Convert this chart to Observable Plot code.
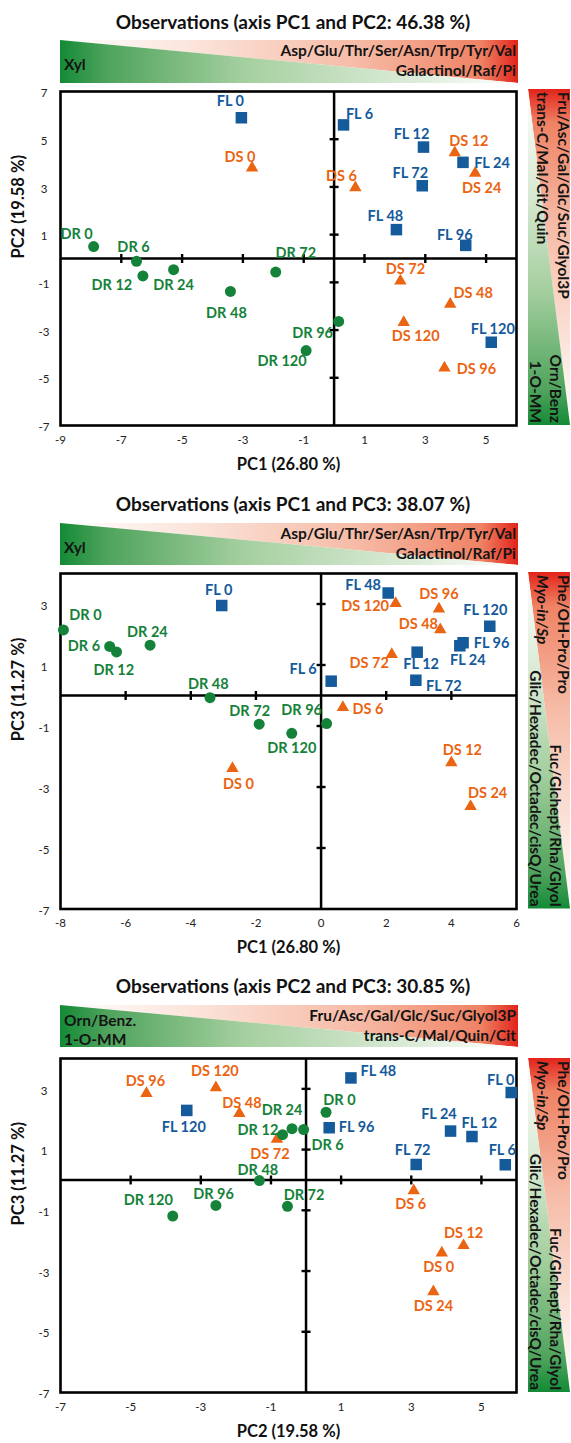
<!DOCTYPE html>
<html>
<head>
<meta charset="utf-8">
<script src="https://cdn.jsdelivr.net/npm/d3@7"></script>
<script src="https://cdn.jsdelivr.net/npm/@observablehq/plot@0.6"></script>
<style>
html,body{margin:0;padding:0;background:#fff;}
#root{position:relative;width:571px;height:1443px;overflow:hidden;font-family:Lato,"Open Sans",sans-serif;}
#root > svg{position:absolute;left:0;}
</style>
</head>
<body>
<div id="root"></div>
<script>
// ---------------- DATA ----------------
const samples = ["FL 0","FL 6","FL 12","FL 24","FL 48","FL 72","FL 96","FL 120",
                 "DS 0","DS 6","DS 12","DS 24","DS 48","DS 72","DS 96","DS 120",
                 "DR 0","DR 6","DR 12","DR 24","DR 48","DR 72","DR 96","DR 120"];

// Panel 1: PC1 vs PC2
const p1PC1 = [-3.05, 0.31, 2.94, 4.24, 2.05, 2.90, 4.33, 5.17,
               -2.70, 0.70, 3.97, 4.64, 3.82, 2.18, 3.63, 2.29,
               -7.91, -6.50, -6.29, -5.28, -3.41, -1.92, 0.15, -0.92];
const p1PC2 = [5.90, 5.60, 4.67, 4.03, 1.21, 3.05, 0.55, -3.51,
               3.80, 2.97, 4.44, 3.58, -1.91, -0.94, -4.59, -2.68,
               0.50, -0.12, -0.73, -0.47, -1.38, -0.57, -2.64, -3.86];
// Panel 2: PC1 vs PC3
const p2PC1 = [-3.05, 0.31, 2.95, 4.26, 2.06, 2.91, 4.36, 5.18,
               -2.72, 0.67, 4.00, 4.59, 3.66, 2.17, 3.62, 2.29,
               -7.91, -6.49, -6.28, -5.25, -3.41, -1.90, 0.17, -0.90];
const p2PC3 = [2.95, 0.47, 1.42, 1.63, 3.36, 0.50, 1.73, 2.27,
               -2.39, -0.39, -2.20, -3.64, 2.16, 1.35, 2.84, 3.02,
               2.15, 1.61, 1.43, 1.65, -0.07, -0.94, -0.92, -1.24];
// Panel 3: PC2 vs PC3
const p3PC2 = [5.85, 5.68, 4.73, 4.12, 1.28, 3.14, 0.66, -3.40,
               3.87, 3.07, 4.49, 3.63, -1.90, -0.83, -4.55, -2.57,
               0.57, -0.07, -0.67, -0.40, -1.33, -0.53, -2.57, -3.80];
const p3PC3 = [2.88, 0.50, 1.43, 1.61, 3.36, 0.51, 1.72, 2.29,
               -2.40, -0.35, -2.16, -3.68, 2.19, 1.34, 2.85, 3.04,
               2.23, 1.66, 1.49, 1.69, -0.02, -0.87, -0.84, -1.19];

// tick labels
const ticksPC1a = [-9, -7, -5, -3, -1, 1, 3, 5];
const ticksPC2a = [7, 5, 3, 1, -1, -3, -5, -7];
const ticksPC1b = [-8, -6, -4, -2, 0, 2, 4, 6];
const ticksPC3 = [3, 1, -1, -3, -5, -7];
const ticksPC2b = [-7, -5, -3, -1, 1, 3, 5];

// titles and loading texts
const titles = ["Observations (axis PC1 and PC2: 46.38 %)",
                "Observations (axis PC1 and PC3: 38.07 %)",
                "Observations (axis PC2 and PC3: 30.85 %)"];
const axisPC1 = "PC1 (26.80 %)", axisPC2 = "PC2 (19.58 %)", axisPC3 = "PC3 (11.27 %)";
const pc1Pos = ["Asp/Glu/Thr/Ser/Asn/Trp/Tyr/Val", "Galactinol/Raf/Pi"];
const pc1Neg = ["Xyl"];
const pc2Pos = ["Fru/Asc/Gal/Glc/Suc/Glyol3P", "trans-C/Mal/Cit/Quin"];
const pc2PosB = ["Fru/Asc/Gal/Glc/Suc/Glyol3P", "trans-C/Mal/Quin/Cit"];
const pc2Neg = ["Orn/Benz", "1-O-MM"];
const pc2NegB = ["Orn/Benz.", "1-O-MM"];
const pc3Pos = ["Phe/OH-Pro/Pro", "Myo-in/Sp"];
const pc3Neg = ["Fuc/Glchept/Rha/Glyol", "Glic/Hexadec/Octadec/cisQ/Urea"];

// ---------------- LAYOUT / STYLE ----------------
const colors = {FL: "#155a9b", DS: "#eb6412", DR: "#15823a"};
const symbols = {FL: "square", DS: "triangle", DR: "circle"};
const radii = {FL: 6.5, DS: 4.6, DR: 5.5};

const nudge1 = [[-11,-16],[16,-11],[-12,-13],[29,1],[-11,-13],[-12,-12],[-11,-10],[1.5,-12.5],
 [-12,-10],[-14,-11],[14,-11],[6.5,15],[23,-11],[5,-12],[32,1],[12,14],
 [-17,-12],[-3,-14],[-31,9],[0,16],[-4,22],[20,-19],[-26,11.5],[-24,11]];
const nudge2 = [[-3,-15.5],[-28,-12],[4,12],[8,14.5],[-25,-7.5],[28,6],[28.5,0.5],[-4.5,-16],
 [6,16],[25,2],[11,-12],[17,-13],[-22,-5],[-22.5,8.7],[0,-15],[-30.5,3],
 [22,-15],[-25.7,0],[-2.7,18.4],[-2.7,-13],[-1.7,-12.8],[-9.5,-13],[-25,-13],[0,15]];
const nudge3 = [[-10.5,-11.7],[-3,-14],[7.5,-13],[-11.6,-17],[27.5,-7],[-3.5,-14.5],[27.5,0],[-3,17],
 [-3,15],[-3,13.4],[0,-12],[0,14.5],[2.5,-10],[-7,15],[-1,-11.6],[-1,-16],
 [13.4,-11.7],[24,16],[-24.6,-4.4],[-10,-18],[-1.5,-10.3],[16.6,-11.5],[-2.4,-11.2],[-24.5,-16]];

const panels = [
  {xs: p1PC1, ys: p1PC2, xDomain: [-9, 6], yDomain: [-7, 7], xLabels: ticksPC1a, yLabels: ticksPC2a,
   xMarks: [-7,-5,-3,-1,1,3,5], yMarks: [5,3,1,-1,-3,-5], xTitle: axisPC1, yTitle: axisPC2,
   frameTop: 91, frameH: 334, nudge: nudge1},
  {xs: p2PC1, ys: p2PC3, xDomain: [-8, 6], yDomain: [-7, 4], xLabels: ticksPC1b, yLabels: ticksPC3,
   xMarks: [-6,-4,-2,2,4], yMarks: [3,1,-1,-3,-5], xTitle: axisPC1, yTitle: axisPC3,
   frameTop: 573, frameH: 335.5, nudge: nudge2},
  {xs: p3PC2, ys: p3PC3, xDomain: [-7, 6], yDomain: [-7, 4], xLabels: ticksPC2b, yLabels: ticksPC3,
   xMarks: [-5,-3,-1,1,3,5], yMarks: [3,1,-1,-3,-5], xTitle: axisPC2, yTitle: axisPC3,
   frameTop: 1058, frameH: 334, nudge: nudge3}
];

const root = document.getElementById("root");

// ---------------- DECORATION (titles + gradient bars) ----------------
const deco = d3.select(root).append("svg")
  .attr("width", 571).attr("height", 1443).style("top", "0px");
const defs = deco.append("defs");
function grad(id, horiz, stops) {
  const g = defs.append("linearGradient").attr("id", id)
    .attr("x1", 0).attr("y1", 0).attr("x2", horiz ? 1 : 0).attr("y2", horiz ? 0 : 1);
  stops.forEach(([o, c]) => g.append("stop").attr("offset", o).attr("stop-color", c));
}
grad("hGreen", true, [[0,"#138a36"],[0.1,"#4ea35c"],[0.4,"#a5cf9f"],[0.75,"#d9ead5"],[1,"#ffffff"]]);
grad("hRed", true, [[0,"#ffffff"],[0.3,"#fbe3d9"],[0.65,"#f6bba6"],[0.92,"#ef8264"],[1,"#e2231a"]]);
grad("vRed", false, [[0,"#e2231a"],[0.1,"#ef8264"],[0.4,"#f6bba6"],[0.75,"#fbe3d9"],[1,"#ffffff"]]);
grad("vGreen", false, [[0,"#ffffff"],[0.3,"#d9ead5"],[0.6,"#a5cf9f"],[0.9,"#4ea35c"],[1,"#138a36"]]);

const barFont = {size: 15.5, weight: 700, fill: "#141414"};
function txt(x, y, s, anchor, rot, italic) {
  const t = deco.append("text").attr("x", x).attr("y", y).text(s)
    .attr("text-anchor", anchor).attr("dominant-baseline", "central")
    .attr("font-size", barFont.size).attr("font-weight", barFont.weight)
    .attr("fill", barFont.fill).attr("font-family", "Lato, sans-serif");
  if (rot) t.attr("transform", `rotate(${rot},${x},${y})`);
  if (italic) t.attr("font-style", "italic");
  return t;
}
function hBar(y0, y1, right, left) {
  const x0 = 60, x1 = 518;
  deco.append("polygon").attr("points", `${x0},${y0} ${x1},${y0} ${x1},${y1}`).attr("fill", "url(#hRed)");
  deco.append("polygon").attr("points", `${x0},${y0} ${x1},${y1} ${x0},${y1}`).attr("fill", "url(#hGreen)");
  txt(516, y0 + 10, right[0], "end");
  txt(516, y0 + 30, right[1], "end");
  if (left.length === 1) txt(64, y0 + 23.5, left[0], "start");
  else { txt(64, y0 + 15, left[0], "start"); txt(64, y0 + 34, left[1], "start"); }
}
function vBar(y0, y1, top, bottom, topItalic2) {
  const x0 = 528, x1 = 570;
  deco.append("polygon").attr("points", `${x0},${y0} ${x1},${y0} ${x1},${y1}`).attr("fill", "url(#vRed)");
  deco.append("polygon").attr("points", `${x0},${y0} ${x1},${y1} ${x0},${y1}`).attr("fill", "url(#vGreen)");
  txt(563.5, y0 + 3, top[0], "start", 90);
  txt(542.5, y0 + 3, top[1], "start", 90, topItalic2);
  txt(556, y1 - 2, bottom[0], "end", 90);
  txt(535.5, y1 - 2, bottom[1], "end", 90);
}
const titleY = [21, 503, 985];
titleY.forEach((y, i) => deco.append("text").attr("x", 293).attr("y", y).text(titles[i])
  .attr("text-anchor", "middle").attr("dominant-baseline", "central")
  .attr("font-size", 19).attr("font-weight", 700).attr("fill", "#111")
  .attr("font-family", "Lato, sans-serif"));

hBar(40, 83, pc1Pos, pc1Neg);
hBar(523, 565, pc1Pos, pc1Neg);
hBar(1005, 1047, pc2PosB, pc2NegB);
vBar(89, 425, pc2Pos, pc2Neg, false);
vBar(572, 908.5, pc3Pos, pc3Neg, true);
vBar(1058, 1392, pc3Pos, pc3Neg, true);

// ---------------- PLOTS ----------------
const tickV = {draw(ctx, size) { const h = Math.sqrt(size / Math.PI); ctx.moveTo(0, -h); ctx.lineTo(0, h); }};
const tickH = {draw(ctx, size) { const h = Math.sqrt(size / Math.PI); ctx.moveTo(-h, 0); ctx.lineTo(h, 0); }};

panels.forEach(p => {
  const data = samples.map((s, i) => ({name: s, g: s.split(" ")[0], x: p.xs[i], y: p.ys[i]}));
  const marginTop = 10, marginBottom = 60;
  const marks = [
    Plot.ruleX([0], {stroke: "#000", strokeWidth: 2.5}),
    Plot.ruleY([0], {stroke: "#000", strokeWidth: 2.5}),
    Plot.dot(p.xMarks, {x: d => d, y: () => 0, symbol: tickV, r: 4.5, stroke: "#000", strokeWidth: 2.4, fill: "none"}),
    Plot.dot(p.yMarks, {x: () => 0, y: d => d, symbol: tickH, r: 4.5, stroke: "#000", strokeWidth: 2.4, fill: "none"}),
    Plot.frame({stroke: "#000", strokeWidth: 2.6}),
    Plot.text(p.xLabels, {x: d => d, text: d => String(d), frameAnchor: "bottom", dy: 18, fill: "#222", fontSize: 11.5}),
    Plot.text(p.yLabels, {y: d => d, text: d => String(d), frameAnchor: "left", dx: -16.5, dy: 2, fill: "#222", fontSize: 11.5, textAnchor: "middle"}),
    Plot.text([p.xTitle], {text: d => d, frameAnchor: "bottom", dy: 44, fontWeight: "bold", fontSize: 16.5, fill: "#111"}),
    Plot.text([p.yTitle], {text: d => d, frameAnchor: "left", dx: -42, rotate: -90, fontWeight: "bold", fontSize: 16.5, fill: "#111"})
  ];
  ["FL", "DS", "DR"].forEach(g => {
    marks.push(Plot.dot(data.filter(d => d.g === g), {x: "x", y: "y", symbol: symbols[g], r: radii[g], fill: colors[g], stroke: "none"}));
  });
  data.forEach((d, i) => {
    marks.push(Plot.text([d], {x: "x", y: "y", text: "name", dx: p.nudge[i][0], dy: p.nudge[i][1],
      fill: colors[d.g], fontWeight: "bold", fontSize: 14.5}));
  });
  const chart = Plot.plot({
    width: 530, height: p.frameH + marginTop + marginBottom,
    marginTop, marginBottom, marginLeft: 60, marginRight: 14,
    x: {domain: p.xDomain, axis: null},
    y: {domain: p.yDomain, axis: null},
    style: {background: "transparent", fontFamily: "Lato, sans-serif", fontSize: "11px", color: "#222", overflow: "visible"},
    marks
  });
  chart.style.position = "absolute";
  chart.style.top = (p.frameTop - marginTop) + "px";
  chart.style.left = "0px";
  root.appendChild(chart);
});
</script>
</body>
</html>
